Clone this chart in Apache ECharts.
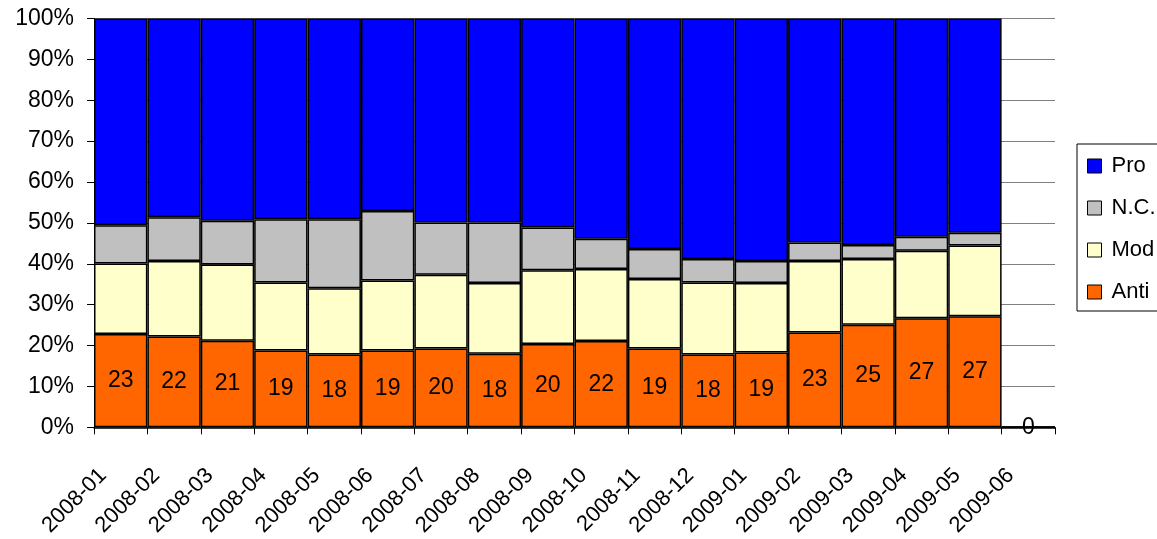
<!DOCTYPE html>
<html>
<head>
<meta charset="utf-8">
<script src="https://cdn.jsdelivr.net/npm/echarts@6/dist/echarts.min.js"></script>
<style>
html,body{margin:0;padding:0;background:#fff;}
#c{width:1157px;height:539px;}
</style>
</head>
<body>
<div id="c"></div>
<script>
const categories = ['2008-01','2008-02','2008-03','2008-04','2008-05','2008-06','2008-07','2008-08','2008-09','2008-10','2008-11','2008-12','2009-01','2009-02','2009-03','2009-04','2009-05','2009-06'];
const anti = [22.8,22.2,21.2,18.8,17.8,18.8,19.3,18.0,20.4,21.1,19.3,17.8,18.3,23.2,25.1,26.7,27.2,0];
const mod  = [17.3,18.5,18.6,16.6,16.2,17.1,18.0,17.3,18.0,17.6,17.0,17.6,17.0,17.5,16.1,16.5,17.3,0];
const nc   = [9.3,10.7,10.7,15.5,16.9,17.0,12.8,14.8,10.5,7.4,7.3,5.8,5.4,4.5,3.4,3.4,3.1,0];
const pro  = [50.6,48.6,49.5,49.1,49.1,47.1,49.9,49.9,51.1,53.9,56.4,58.8,59.3,54.8,55.4,53.4,52.4,0];
const antiLabels = [23,22,21,19,18,19,20,18,20,22,19,18,19,23,25,27,27,0];
const yTicks = [0,10,20,30,40,50,60,70,80,90,100];

const FONT = "'Liberation Sans', Arial, sans-serif";
const chart = echarts.init(document.getElementById('c'), null, {renderer:'canvas'});
const border = {borderColor:'#000', borderWidth:1.5};
function mk(name, data, color, extra){
  return Object.assign({
    name, type:'bar', stack:'s', data, barCategoryGap:'0%',
    itemStyle:Object.assign({color}, border),
    emphasis:{disabled:true}
  }, extra||{});
}
chart.setOption({
  animation:false,
  textStyle:{fontFamily:FONT},
  grid:{left:94, right:102, top:18.5, bottom:109.7, containLabel:false},
  legend:{
    orient:'vertical', left:1077, top:144,
    data:['Pro','N.C.','Mod','Anti'],
    itemWidth:14, itemHeight:14, itemGap:20,
    padding:[11,10,8,10],
    borderColor:'#000', borderWidth:1,
    icon:'rect',
    itemStyle:{borderColor:'#000', borderWidth:1},
    textStyle:{fontFamily:FONT, fontSize:22, lineHeight:20, color:'#000', padding:[0,0,0,5]}
  },
  xAxis:{
    type:'category', data:categories, boundaryGap:true,
    axisLine:{lineStyle:{color:'#000', width:1.5}},
    axisTick:{show:true, length:7, lineStyle:{color:'#000'}, alignWithLabel:false},
    axisLabel:{interval:0, rotate:45, margin:27, padding:[0,25,0,0], fontSize:22, color:'#000', fontFamily:FONT}
  },
  yAxis:{
    type:'value', min:yTicks[0], max:yTicks[yTicks.length-1], interval:10,
    axisLine:{show:true, lineStyle:{color:'#000', width:1}},
    axisTick:{show:true, length:7, lineStyle:{color:'#000'}},
    splitLine:{show:true, lineStyle:{color:'#808080', width:1}},
    axisLabel:{formatter:'{value}%', margin:20, fontSize:23, color:'#000', fontFamily:FONT}
  },
  series:[
    mk('Anti', anti, '#FF6600', {label:{show:true, position:'inside', color:'#000', fontSize:23, fontFamily:FONT, formatter:p=>String(antiLabels[p.dataIndex])}}),
    mk('Mod', mod, '#FFFFCC'),
    mk('N.C.', nc, '#C0C0C0'),
    mk('Pro', pro, '#0000FF')
  ]
});
</script>
</body>
</html>
